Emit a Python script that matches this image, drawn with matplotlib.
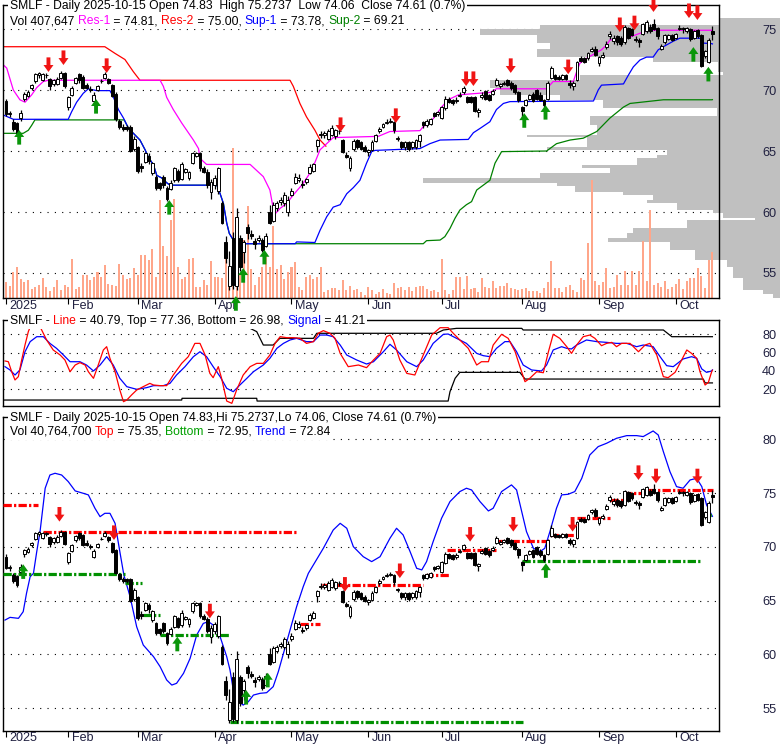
import os
import numpy as np
import matplotlib.pyplot as plt
from matplotlib import font_manager as fm

plt.rcParams['font.family'] = ['Liberation Sans', 'DejaVu Sans']


def find_font(name):
    for p in fm.findSystemFonts():
        if os.path.basename(p).lower() == name.lower():
            return p
    return None


_path = find_font('LiberationSans-Regular.ttf')


def font(size):
    if _path:
        fp = fm.FontProperties(fname=_path)
    else:
        fp = fm.FontProperties(family='Liberation Sans')
    fp.set_size(size)
    return fp


# ---- daily candles, 194 sessions (Jan 2025 .. 2025-10-15) ----
opens = [69.1, 68.0, 67.4, 67.3, 67.7, 69.3, 69.5, 70.2, 70.7, 71.2,
         70.8, 71.2, 70.9, 70.5, 70.5, 71.0, 71.4, 68.6, 69.6, 70.6,
         71.3, 71.1, 70.4, 70.1, 69.1, 70.0, 70.7, 71.0, 70.9, 70.4,
         69.7, 67.5, 67.0, 67.0, 67.0, 65.2, 65.3, 63.8, 64.1, 64.6,
         63.2, 62.9, 62.4, 62.9, 62.0, 61.9, 62.6, 63.4, 62.7, 63.3,
         62.8, 64.0, 64.6, 64.8, 63.6, 63.3, 61.6, 62.2, 61.7, 60.7,
         57.5, 53.9, 57.9, 53.9, 57.9, 56.7, 58.8, 58.2, 57.6, 57.7,
         57.7, 57.2, 60.0, 59.3, 60.3, 60.8, 60.7, 60.0, 61.4, 62.35,
         62.6, 62.3, 62.5, 63.2, 63.4, 65.4, 66.3, 66.3, 66.0, 66.3,
         66.2, 66.6, 65.9, 64.7, 63.6, 65.2, 65.9, 65.7, 65.3, 64.9,
         65.1, 65.8, 66.6, 67.0, 67.3, 67.4, 67.4, 66.0, 65.7, 65.3,
         65.7, 65.3, 65.3, 65.8, 67.4, 67.1, 67.2, 68.1, 68.0, 67.7,
         68.5, 69.3, 69.2, 69.1, 69.5, 69.8, 69.4, 69.4, 69.4, 68.2,
         69.4, 69.9, 69.6, 69.7, 70.4, 70.3, 70.5, 70.8, 70.6, 70.4,
         69.8, 68.6, 68.8, 69.3, 69.7, 70.0, 69.6, 69.2, 69.3, 71.0,
         71.2, 71.1, 70.9, 71.2, 70.6, 70.3, 70.8, 72.6, 72.6, 72.6,
         73.2, 73.4, 72.2, 72.7, 73.5, 74.4, 74.0, 74.4, 74.3, 73.9,
         75.1, 75.0, 74.2, 74.1, 74.6, 74.8, 75.2, 75.4, 75.1, 73.4,
         73.9, 74.2, 74.5, 74.3, 75.0, 75.1, 74.8, 75.0, 74.3, 74.9,
         74.5, 72.8, 72.3, 74.83]
closes = [68.0, 68.1, 66.8, 66.5, 68.1, 69.7, 69.8, 70.4, 71.3, 71.4,
          71.3, 71.2, 70.3, 70.8, 70.9, 71.4, 70.3, 69.4, 70.2, 71.0,
          70.8, 70.2, 70.2, 70.0, 69.6, 70.3, 70.7, 71.3, 70.6, 69.5,
          67.6, 67.0, 66.8, 66.8, 65.0, 66.0, 63.4, 63.6, 64.8, 64.2,
          64.0, 62.0, 62.0, 62.2, 61.1, 62.4, 63.6, 62.6, 63.9, 63.5,
          63.3, 64.8, 64.8, 63.6, 63.3, 62.2, 62.5, 62.8, 63.6, 59.1,
          56.2, 55.6, 54.0, 59.6, 55.5, 57.5, 58.3, 58.0, 57.4, 57.9,
          56.9, 58.0, 59.1, 60.6, 60.7, 61.0, 61.4, 61.0, 61.7, 62.9,
          62.8, 62.2, 62.7, 63.7, 63.9, 65.9, 66.4, 66.5, 66.6, 66.9,
          66.7, 66.6, 64.9, 64.5, 64.4, 65.8, 65.3, 65.2, 65.0, 65.1,
          65.7, 66.3, 66.8, 67.2, 67.4, 67.5, 66.7, 66.0, 65.3, 65.7,
          65.2, 65.7, 65.9, 66.3, 67.1, 67.5, 67.6, 67.9, 68.2, 68.6,
          69.3, 69.0, 68.9, 69.2, 69.6, 70.2, 69.0, 69.0, 68.3, 68.4,
          69.6, 69.3, 69.2, 69.9, 70.8, 70.5, 70.6, 70.4, 70.2, 69.8,
          69.2, 68.3, 69.2, 69.6, 69.1, 69.3, 69.2, 68.8, 70.6, 71.8,
          70.9, 70.9, 71.2, 70.9, 70.4, 70.6, 72.3, 72.4, 72.3, 73.0,
          73.4, 72.9, 72.7, 72.9, 73.8, 74.6, 74.3, 73.9, 73.8, 75.2,
          74.3, 74.5, 74.1, 73.9, 75.4, 75.6, 74.8, 75.0, 74.4, 73.6,
          74.5, 74.5, 74.1, 74.6, 75.1, 75.0, 75.1, 74.2, 74.8, 74.4,
          72.0, 73.2, 74.1, 74.61]
highs = [69.3, 68.3, 67.6, 67.4, 68.4, 69.8, 70.0, 70.5, 71.4, 71.5,
         71.4, 71.4, 71.0, 70.9, 71.1, 71.6, 71.5, 69.5, 70.3, 71.1,
         71.4, 71.2, 70.6, 70.3, 69.8, 70.4, 70.9, 71.5, 71.0, 70.5,
         69.8, 67.6, 67.2, 67.1, 67.1, 66.2, 65.4, 64.0, 64.9, 64.8,
         64.1, 63.0, 62.5, 63.0, 62.1, 62.6, 63.7, 63.5, 64.1, 63.6,
         63.4, 64.9, 64.9, 64.9, 63.8, 63.5, 62.7, 63.0, 63.7, 60.9,
         58.0, 56.8, 58.4, 60.3, 58.1, 57.7, 59.0, 58.5, 57.9, 58.1,
         57.9, 58.3, 60.6, 60.8, 60.9, 61.2, 61.6, 61.3, 62.0, 63.2,
         63.1, 62.6, 62.8, 63.9, 64.0, 66.0, 66.6, 66.6, 66.8, 67.1,
         66.8, 66.8, 66.0, 64.9, 64.6, 66.0, 66.0, 65.8, 65.5, 65.2,
         65.9, 66.4, 67.0, 67.3, 67.6, 67.7, 67.5, 66.2, 65.8, 65.8,
         65.8, 65.8, 66.0, 66.4, 67.5, 67.6, 67.7, 68.2, 68.3, 68.7,
         69.5, 69.4, 69.3, 69.4, 69.8, 70.3, 69.5, 69.5, 69.5, 68.5,
         69.8, 70.0, 69.7, 70.1, 71.0, 70.6, 70.7, 70.9, 70.7, 70.5,
         69.9, 68.7, 69.3, 69.7, 69.8, 70.1, 69.8, 69.3, 70.7, 72.0,
         71.3, 71.2, 71.3, 71.3, 70.8, 70.7, 72.4, 72.8, 72.7, 73.1,
         73.5, 73.6, 72.8, 73.1, 74.0, 74.8, 74.5, 74.5, 74.4, 75.3,
         75.2, 75.1, 74.4, 74.3, 75.5, 75.7, 75.4, 75.8, 75.2, 73.8,
         74.6, 74.6, 74.6, 74.7, 75.3, 75.2, 75.2, 75.1, 74.9, 75.0,
         74.6, 73.3, 74.3, 75.27]
lows = [67.9, 67.8, 66.6, 66.3, 67.5, 69.1, 69.4, 70.0, 70.6, 71.0,
        70.7, 71.0, 70.0, 70.3, 70.4, 70.9, 70.2, 68.4, 69.5, 70.5,
        70.6, 70.1, 70.1, 69.8, 69.0, 69.9, 70.6, 70.9, 70.5, 69.4,
        67.5, 66.8, 66.6, 66.6, 64.9, 65.0, 63.2, 63.3, 64.0, 63.9,
        63.0, 61.8, 61.8, 62.0, 60.9, 61.8, 62.5, 62.5, 62.6, 63.2,
        62.6, 63.9, 64.5, 63.4, 63.2, 62.0, 61.1, 61.9, 61.5, 59.0,
        55.8, 53.6, 53.7, 53.6, 55.2, 55.8, 57.8, 57.8, 57.0, 57.5,
        56.7, 57.1, 59.0, 59.2, 60.1, 60.6, 60.5, 59.7, 61.3, 62.3,
        62.5, 62.0, 62.3, 63.1, 63.3, 64.9, 66.1, 66.1, 65.9, 66.2,
        66.0, 66.4, 64.8, 64.4, 63.4, 65.0, 65.2, 65.1, 64.9, 64.6,
        65.0, 65.7, 66.5, 66.9, 67.2, 67.3, 66.5, 65.8, 65.2, 65.1,
        65.0, 65.2, 65.2, 65.3, 66.9, 67.0, 67.1, 67.8, 67.9, 67.6,
        68.4, 68.9, 68.8, 68.9, 69.4, 69.7, 68.9, 68.9, 68.2, 67.8,
        69.3, 69.2, 69.1, 69.6, 70.3, 70.2, 70.4, 70.3, 70.0, 69.7,
        69.0, 67.8, 68.7, 69.2, 69.0, 69.2, 69.1, 68.6, 69.2, 70.9,
        70.8, 70.8, 70.8, 70.8, 70.2, 70.0, 70.7, 72.3, 72.2, 72.5,
        73.1, 72.8, 72.0, 72.6, 73.4, 74.2, 73.8, 73.7, 73.6, 73.8,
        74.2, 74.4, 73.9, 73.5, 74.5, 74.7, 74.7, 74.9, 74.2, 73.3,
        73.8, 74.1, 74.0, 74.2, 74.9, 74.7, 74.7, 74.0, 74.2, 74.3,
        71.9, 72.6, 72.2, 74.06]
# volume, thousands of shares
volumes = [142, 103, 230, 275, 171, 142, 157, 83, 97, 112,
           177, 97, 62, 97, 157, 68, 112, 97, 345, 83,
           97, 201, 201, 157, 186, 230, 186, 289, 121, 112,
           103, 304, 201, 171, 180, 269, 201, 378, 378, 334,
           431, 186, 865, 458, 369, 688, 880, 275, 171, 186,
           348, 357, 97, 97, 157, 112, 328, 186, 186, 180,
           481, 127, 1329, 97, 201, 511, 812, 260, 112, 186,
           275, 369, 275, 635, 260, 289, 171, 230, 275, 319,
           97, 68, 186, 201, 171, 186, 275, 53, 68, 92,
           92, 68, 157, 68, 103, 74, 83, 53, 24, 97,
           68, 38, 53, 83, 44, 38, 133, 92, 97, 68,
           97, 62, 97, 103, 103, 77, 62, 74, 53, 345,
           68, 38, 74, 186, 186, 83, 192, 80, 92, 53,
           177, 97, 89, 148, 89, 103, 103, 133, 92, 77,
           74, 80, 89, 62, 62, 62, 44, 92, 142, 328,
           92, 92, 53, 97, 112, 74, 53, 177, 157, 487,
           1048, 148, 112, 139, 266, 92, 97, 207, 112, 236,
           112, 239, 112, 239, 502, 148, 777, 112, 133, 97,
           148, 83, 97, 127, 165, 83, 151, 177, 177, 266,
           195, 89, 340, 408]

month_idx = [0, 17, 36, 57, 78, 99, 119, 141, 162, 183]
month_lbl = ['2025', 'Feb', 'Mar', 'Apr', 'May', 'Jun', 'Jul', 'Aug', 'Sep', 'Oct']

# ---- volume by price (right side histogram) ----
vp_low = [75.3, 75.0, 74.5, 73.85, 73.4, 72.7, 72.3, 71.5, 71.2, 70.8, 70.2, 69.6,
          69.2, 68.5, 67.9, 67.1, 66.3, 66.15, 65.3, 65.1, 64.7, 64.4, 63.85, 63.6,
          63.2, 62.8, 62.4, 62.1, 61.65, 61.4, 61.0, 60.7, 60.2, 59.9, 59.5, 59.35,
          58.7, 58.3, 57.9, 57.5, 56.9, 56.1, 55.5, 54.6, 53.6, 53.3, 52.95]
vp_high = [75.9, 75.3, 75.0, 74.5, 73.85, 73.4, 72.7, 72.3, 71.5, 71.2, 70.8, 70.2,
           69.6, 69.2, 68.5, 67.9, 67.1, 66.3, 66.15, 65.3, 65.1, 64.7, 64.4, 63.85,
           63.6, 63.2, 62.8, 62.4, 62.1, 61.65, 61.4, 61.0, 60.7, 60.2, 59.9, 59.5,
           59.35, 58.7, 58.3, 57.9, 57.5, 56.9, 56.1, 55.5, 54.6, 53.6, 53.3]
vp_volume = [60, 240, 300, 243, 230, 243, 127, 62, 57, 200, 290, 280,
             220, 177, 63, 190, 183, 253, 193, 233, 113, 123, 143, 198,
             170, 240, 357, 223, 205, 157, 127, 133, 103, 67, 57, 25,
             93, 147, 153, 172, 110, 85, 53, 47, 37, 17, 7]

# ---- support / resistance lines, top panel ----
res2_x = [-0.8, 27.0, 29.8, 32.5, 34.8, 36.6, 77.6, 78.5, 80.3, 82.1, 84.4, 85.8, 87.4]
res2_y = [73.55, 73.55, 73.0, 72.5, 71.5, 70.8, 70.8, 70.3, 68.9, 67.8, 66.7, 65.9, 65.4]
res1_x = [-0.7, 0.2, 2.0, 3.8, 5.2, 7.0, 8.4, 10.2, 11.6, 42.1, 43.0, 43.9, 45.7, 48.0,
          51.2, 52.6, 53.0, 54.8, 66.7, 68.5, 70.3, 72.1, 73.0, 73.7, 74.9, 76.7, 78.5,
          81.2, 83.5, 85.8, 87.6, 89.4, 101.7, 104.9, 113.1, 114.0, 115.8, 117.6, 119.0,
          120.8, 123.6, 127.7, 132.2, 134.0, 147.7, 149.5, 155.0, 155.9, 156.8, 158.6,
          162.7, 164.1, 165.0, 168.7, 170.5, 174.1, 175.9, 192.8, 193.0]
res1_y = [72.05, 71.8, 70.0, 69.2, 69.0, 69.6, 70.2, 70.7, 70.8, 70.8, 70.3, 69.4, 68.4, 67.3,
          65.9, 65.2, 64.4, 63.9, 63.9, 63.4, 62.9, 61.8, 60.3, 59.9, 60.3, 60.7, 61.4,
          62.35, 63.4, 65.1, 65.6, 66.1, 66.2, 66.6, 66.67, 67.0, 67.3, 68.0, 68.6,
          69.2, 69.6, 69.7, 69.8, 70.1, 70.1, 70.7, 70.7, 71.5, 72.2, 72.6,
          73.3, 73.7, 74.1, 74.2, 74.35, 74.75, 74.9, 74.9, 74.81]
sup1_x = [-0.7, 2.0, 17.0, 17.9, 19.3, 21.1, 22.5, 24.8, 28.4, 29.3, 30.7, 32.1, 33.4,
          34.8, 36.6, 38.0, 38.9, 40.3, 41.2, 42.5, 43.9, 44.8, 57.6, 58.5, 59.4, 60.3,
          61.0, 62.1, 63.0, 79.0, 79.4, 84.4, 85.8, 87.6, 89.4, 91.3, 93.1, 94.9, 96.7,
          98.5, 99.9, 100.8, 113.1, 115.8, 118.6, 126.3, 127.7, 129.5, 132.2, 134.0,
          135.9, 137.7, 160.5, 161.8, 162.7, 168.7, 170.0, 171.4, 173.2, 175.0, 176.8,
          178.2, 179.6, 182.3, 184.1, 189.6, 190.5, 192.8, 193.0]
sup1_y = [67.95, 67.6, 67.6, 68.2, 69.0, 69.73, 70.1, 69.95, 69.95, 69.45, 68.4, 67.7, 66.9,
          66.45, 65.9, 65.1, 64.5, 63.85, 63.0, 62.8, 62.4, 62.2, 62.2, 61.5, 60.7, 59.1,
          58.25, 57.7, 57.4, 57.4, 57.55, 57.5, 58.5, 59.6, 60.4, 60.6, 61.5, 62.0, 62.6,
          64.0, 64.95, 65.05, 65.2, 65.6, 65.9, 65.95, 66.5, 66.85, 67.4, 68.4,
          68.9, 69.05, 69.1, 70.0, 70.4, 70.5, 71.2, 71.9, 72.46, 72.7, 72.7,
          73.3, 73.55, 74.0, 74.25, 74.25, 73.85, 73.8, 73.78]
sup2_x = [-0.7, 4.7, 6.1, 7.0, 7.9, 32.3, 33.4, 34.8, 36.6, 38.0, 38.9, 40.3, 41.2,
          42.5, 43.9, 44.8, 57.6, 58.5, 59.4, 60.3, 61.0, 62.1, 63.0, 114.0, 114.9,
          118.6, 119.9, 121.3, 122.7, 124.0, 125.8, 127.2, 128.6, 130.4, 132.2, 133.6,
          135.4, 147.7, 150.4, 154.1, 157.7, 161.4, 165.0, 168.7, 170.5, 179.6, 192.8, 193.0]
sup2_y = [66.45, 66.45, 66.7, 67.1, 67.55, 67.55, 66.9, 66.45, 65.9, 65.1, 64.5, 63.85, 63.0,
          62.8, 62.4, 62.2, 62.2, 61.5, 60.7, 59.1, 58.25, 57.7, 57.4, 57.4, 57.65,
          57.7, 57.98, 58.65, 59.5, 60.16, 60.6, 60.85, 61.8, 62.2, 62.6, 64.0,
          64.95, 65.0, 65.6, 65.9, 66.05, 66.6, 67.7, 68.6, 68.9, 69.2, 69.2, 69.21]

# signal arrows, top panel (tip position)
top_dn_x = [11.6, 15.7, 27.5, 91.4, 106.5, 125.7, 127.7, 137.9, 153.6, 167.7, 171.7, 176.9, 186.6, 188.9]
top_dn_y = [71.48, 72.05, 71.4, 66.56, 67.3, 70.33, 70.33, 71.4, 71.3, 74.75, 74.9, 76.4, 75.9, 75.74]
top_up_x = [3.6, 24.6, 44.6, 62.8, 64.8, 70.6, 141.6, 147.4, 187.8, 191.9]
top_up_y = [66.72, 69.26, 60.98, 53.1, 55.4, 56.9, 68.1, 68.77, 73.52, 71.9]

# ---- oscillator panel ----
line_x = [-0.27, 0.64, 1.55, 2.46, 3.37, 4.28, 5.19, 6.1, 7.0, 7.9, 9.3, 11.1, 12.9, 14.8,
          16.1, 17.5, 18.9, 20.2, 21.6, 22.5, 23.9, 25.2, 26.6, 27.5, 28.4, 29.8, 31.1,
          32.1, 33.0, 34.3, 35.7, 37.5, 39.3, 40.3, 42.1, 43.9, 45.7, 48.0, 49.8, 51.6,
          53.0, 54.4, 55.7, 56.6, 58.0, 58.9, 60.3, 61.7, 63.0, 64.8, 66.7, 68.5, 70.3,
          72.1, 73.5, 74.9, 76.7, 78.5, 80.3, 82.1, 84.0, 85.3, 86.7, 88.5, 89.9, 91.3,
          93.5, 96.3, 98.5, 100.4, 102.2, 104.0, 104.9, 105.8, 107.6, 109.5, 111.7, 114.0,
          116.3, 118.6, 120.8, 122.2, 124.0, 126.3, 128.6, 129.9, 131.8, 133.1, 135.4,
          137.2, 139.1, 140.4, 141.8, 143.1, 145.0, 146.8, 148.2, 149.5, 151.3, 153.2,
          154.5, 155.9, 157.7, 159.5, 160.9, 162.7, 164.1, 165.5, 166.8, 168.2, 170.5,
          172.8, 174.6, 175.9, 177.8, 179.6, 180.9, 182.8, 184.6, 186.0, 187.3, 188.7,
          189.6, 191.0, 191.9, 192.8, 193.0]
line_y = [50.9, 50.1, 39.2, 30.2, 33.8, 52.0, 68.3, 82.9, 92.0, 93.8, 88.3, 73.8, 62.9, 57.4,
          52.0, 39.2, 46.5, 49.1, 46.5, 39.2, 32.0, 46.5, 62.9, 66.5, 53.8, 39.2, 19.2,
          6.5, 8.3, 13.8, 19.2, 22.9, 26.5, 24.7, 24.0, 24.0, 35.6, 48.3, 55.6, 70.1,
          70.1, 57.4, 37.4, 32.7, 44.7, 32.0, 7.2, 4.7, 19.2, 35.6, 44.7, 48.3, 48.3,
          57.4, 70.1, 77.4, 76.3, 76.3, 75.6, 70.1, 72.0, 81.1, 84.0, 81.1, 75.6, 59.2,
          44.7, 46.5, 43.6, 52.0, 59.2, 77.4, 79.2, 73.8, 52.0, 37.4, 35.6, 57.4,
          79.2, 87.2, 87.2, 81.1, 73.8, 64.7, 46.5, 50.1, 50.1, 68.3, 80.0,
          75.6, 61.0, 44.7, 28.3, 32.0, 39.2, 38.1, 61.0, 80.0, 75.6, 66.5,
          59.2, 68.3, 77.4, 79.2, 75.6, 67.6, 70.1, 71.2, 66.5, 70.1, 70.1,
          61.0, 68.3, 70.1, 57.4, 33.8, 32.7, 38.5, 52.0, 62.9, 59.2, 53.8,
          39.2, 24.7, 27.6, 39.2, 40.79]
signal_x = [-0.27, 1.1, 2.46, 3.8, 5.19, 6.6, 8.4, 10.2, 12.0, 13.8, 15.7, 17.5, 20.2, 22.0,
            23.9, 25.7, 27.5, 29.3, 31.1, 33.0, 35.7, 38.4, 40.3, 43.0, 44.8, 46.6, 48.9,
            51.2, 53.0, 54.8, 56.6, 58.5, 60.3, 62.1, 63.9, 65.8, 67.6, 70.3, 72.1, 74.0,
            75.8, 77.6, 79.4, 82.1, 84.0, 85.8, 87.6, 89.4, 91.3, 93.1, 95.8, 98.5, 100.4,
            103.1, 104.9, 106.7, 109.5, 112.2, 114.0, 116.7, 119.5, 120.8, 123.1, 125.8,
            128.6, 130.4, 132.2, 134.0, 136.3, 137.7, 139.5, 141.3, 143.6, 146.3, 147.7,
            149.5, 151.8, 153.2, 154.5, 155.9, 158.6, 161.4, 164.1, 166.8, 169.6, 172.3,
            174.1, 176.8, 178.7, 180.5, 182.3, 185.0, 187.3, 188.7, 190.1, 191.4, 192.8, 193.0]
signal_y = [44.7, 41.1, 35.6, 41.1, 61.0, 72.0, 77.4, 77.4, 70.1, 64.7, 57.4, 50.1, 50.1, 46.5,
            40.0, 46.5, 55.6, 46.5, 32.0, 22.9, 20.0, 21.8, 24.0, 24.0, 26.5, 35.6, 44.7,
            55.6, 61.0, 55.6, 44.7, 33.8, 21.1, 17.4, 24.7, 32.0, 39.2, 46.5, 53.8, 64.7,
            70.1, 73.8, 75.6, 72.0, 72.0, 79.2, 79.2, 77.4, 68.3, 57.4, 52.0, 47.6, 50.1,
            61.0, 69.1, 62.9, 50.1, 44.7, 52.0, 70.1, 80.0, 80.3, 75.6, 70.1,
            59.2, 56.7, 55.6, 64.7, 72.0, 72.0, 61.0, 46.5, 41.1, 40.0, 46.5,
            62.9, 66.5, 64.7, 64.0, 68.3, 73.8, 72.0, 71.2, 70.1, 70.1, 66.5,
            68.3, 66.5, 55.6, 45.8, 44.7, 53.1, 55.6, 53.8, 42.2, 38.5, 40.0, 41.21]
band_top_x = [-0.8, 21.5, 21.6, 66.7, 68.5, 70.3, 73.0, 74.8, 84.0, 84.9, 117.6, 119.5,
              123.1, 140.9, 141.3, 179.6, 181.9, 193.0]
band_top_y = [98.0, 98.0, 86.5, 86.5, 82.9, 68.3, 68.3, 75.6, 75.6, 81.1, 81.1, 84.7,
              86.5, 86.5, 84.7, 84.7, 77.4, 77.4]
band_bot_x = [-0.8, 48.0, 48.1, 68.5, 68.6, 120.8, 121.3, 122.7, 124.0, 140.4, 141.8,
              190.5, 191.0, 193.0]
band_bot_y = [8.3, 8.3, 10.2, 10.2, 7.2, 7.2, 17.4, 32.0, 38.5, 38.5, 31.2, 31.2, 26.98, 26.98]

# ---- bottom panel: trend curve, support/resistance segments, arrows ----
trend_x = [-0.27, 1.1, 3.4, 4.7, 5.6, 6.6, 7.5, 8.4, 9.3, 10.7, 12.0, 13.4, 15.2, 17.0,
           18.9, 21.1, 22.5, 24.3, 25.7, 27.0, 28.4, 29.8, 31.1, 32.2, 33.9, 35.7, 37.5,
           40.3, 42.1, 43.9, 45.3, 46.6, 48.5, 50.3, 52.1, 53.9, 55.3, 56.6, 58.5, 60.3,
           61.2, 62.1, 63.0, 64.8, 66.2, 67.6, 69.4, 71.2, 73.0, 74.4, 75.8, 77.6, 79.4,
           81.2, 82.6, 86.7, 89.4, 91.3, 93.1, 94.9, 97.6, 99.9, 102.2, 104.9, 106.7,
           108.5, 110.4, 112.2, 113.6, 114.9, 116.7, 119.0, 121.3, 124.0, 125.8, 127.2,
           129.5, 131.8, 133.1, 135.4, 138.1, 139.5, 140.9, 142.2, 144.1, 145.9, 147.2,
           148.6, 150.4, 151.8, 153.6, 155.4, 157.3, 159.5, 161.8, 164.1, 166.8, 169.6,
           172.3, 174.1, 176.8, 178.2, 179.6, 181.4, 183.2, 185.0, 186.9, 188.7, 190.1,
           191.4, 193.0]
trend_y = [63.2, 63.45, 63.36, 63.98, 65.68, 67.23, 67.54, 69.56, 71.42, 75.45, 76.68, 76.84,
           76.68, 76.07, 75.2, 74.98, 74.83, 73.59, 72.81, 73.12, 73.12, 72.19, 69.56, 67.39,
           65.37, 62.58, 60.88, 59.8, 58.87, 57.63, 57.16, 57.32, 58.25, 59.64, 61.81,
           62.89, 63.05, 62.74, 61.65, 59.8, 58.56, 56.7, 55.77, 55.3, 55.61, 56.23,
           56.39, 56.45, 57.01, 58.4, 60.1, 62.27, 64.44, 66.3, 67.54, 69.87, 71.57,
           72.19, 71.73, 70.02, 69.09, 68.63, 69.09, 70.8, 71.73, 71.11, 69.56, 68.01,
           67.86, 68.63, 70.49, 72.66, 74.21, 75.14, 75.45, 75.29, 74.21, 73.34, 73.59,
           75.14, 75.76, 75.29, 73.28, 71.42, 69.87, 69.56, 69.87, 71.42, 73.59, 74.83,
           74.89, 75.14, 76.37, 78.54, 79.32, 79.63, 80.09, 80.34, 80.34, 80.25, 80.77,
           80.4, 78.85, 76.99, 75.6, 75.45, 76.22, 76.37, 75.6, 73.9, 72.84]
res_seg_start = [-0.8, 10.1, 80.3, 86.3, 114.5, 120.4, 134.0, 148.6, 155.9, 165.0, 168.7, 175.0]
res_seg_end = [8.7, 79.8, 85.8, 114.0, 121.3, 134.0, 148.6, 155.9, 165.0, 168.7, 174.1, 193.2]
res_seg_level = [73.9, 71.42, 62.8, 66.5, 67.4, 69.71, 70.55, 71.11, 72.72, 74.36, 74.98, 75.29]
sup_seg_start = [-0.8, 32.5, 37.5, 42.1, 61.2, 140.9, 190.5]
sup_seg_end = [32.5, 37.1, 42.1, 61.2, 141.3, 190.1, 192.8]
sup_seg_level = [67.48, 66.6, 63.67, 61.81, 53.69, 68.69, 72.97]
bot_dn_x = [14.6, 29.5, 55.7, 92.6, 107.6, 126.8, 138.6, 154.8, 172.8, 177.6, 188.9]
bot_dn_y = [72.35, 70.64, 63.36, 65.84, 67.1, 70.49, 71.42, 71.42, 76.22, 75.91, 75.91]
bot_up_x = [4.7, 46.8, 65.6, 71.5, 147.5]
bot_up_y = [68.38, 61.65, 56.7, 58.3, 68.48]

FIG_W, FIG_H = 780, 745
XLIM = (-0.82, 194.8)
VP_RIGHT = 211.5          # x=780px in candle-index units
PX_PER_BAR = 3.66

fig = plt.figure(figsize=(FIG_W / 100, FIG_H / 100), dpi=100)
renderer = fig.canvas.get_renderer()


def panel(y_top, y_bot):
    return fig.add_axes([3 / FIG_W, 1 - y_bot / FIG_H, 716 / FIG_W, (y_bot - y_top) / FIG_H])


def style_frame(ax, ylim, yticks):
    ax.set_xlim(*XLIM)
    ax.set_ylim(*ylim)
    for s in ax.spines.values():
        s.set_linewidth(1.0)
        s.set_color('black')
    ax.yaxis.tick_right()
    ax.set_yticks(yticks)
    ax.tick_params(axis='y', length=0, pad=31, labelcolor='#202040')
    for lab in ax.get_yticklabels():
        lab.set_fontproperties(font(9.2))
    ax.patch.set_visible(False)


def dotted(ax, levels):
    for v in levels:
        ax.axhline(v, color='black', lw=0.8, ls=(0, (1, 5.6)), zorder=0.5)


def month_axis(ax, off_px, h_px):
    ax.set_xticks(month_idx)
    ax.set_xticklabels([])
    ax.tick_params(axis='x', direction='out', length=4.5, width=0.8)
    for i, m in zip(month_idx, month_lbl):
        ax.text(i + 0.9, -off_px / h_px, m, transform=ax.get_xaxis_transform(),
                ha='left', va='center', fontproperties=font(9.0), color='#202040')


def draw_candles(ax):
    x = np.arange(len(opens))
    o, c = np.array(opens), np.array(closes)
    h, l = np.array(highs), np.array(lows)
    ax.vlines(x, l, h, color='black', lw=0.9, zorder=4)
    up = c >= o
    body = np.maximum(np.abs(c - o), 0.06)
    base = np.minimum(o, c)
    ax.bar(x[up], body[up], bottom=base[up], width=0.78, facecolor='white',
           edgecolor='black', lw=0.7, zorder=5)
    ax.bar(x[~up], body[~up], bottom=base[~up], width=0.78, facecolor='black',
           edgecolor='black', lw=0.7, zorder=5)


def arrows(ax, xs, ys, color, down):
    for x, y in zip(xs, ys):
        ax.annotate('', xy=(x, y), xytext=(0, 10.5 if down else -10.5), textcoords='offset points',
                    arrowprops=dict(arrowstyle='simple,head_length=0.5,head_width=0.72,tail_width=0.28',
                                    fc=color, ec='none', shrinkA=0, shrinkB=0),
                    annotation_clip=False, zorder=6)


def text_width(s, size):
    t = fig.text(0, 0, s + '|', fontproperties=font(size))
    w = t.get_window_extent(renderer).width
    t.remove()
    t = fig.text(0, 0, '|', fontproperties=font(size))
    w -= t.get_window_extent(renderer).width
    t.remove()
    return w


def fit_size(s, target_px, base=9.0):
    # font size that makes string s span target_px pixels
    return base * target_px / text_width(s, base)


def header(x_px, y_px, parts, size):
    full = ''.join(s for s, _ in parts)
    fig.text(x_px / FIG_W, 1 - y_px / FIG_H, full, color='white', fontproperties=font(size),
             va='center', ha='left', bbox=dict(fc='white', ec='none', pad=1.2), zorder=10)
    prefix = ''
    for s, col in parts:
        dx = text_width(prefix, size) if prefix else 0
        fig.text((x_px + dx) / FIG_W, 1 - y_px / FIG_H, s, color=col, fontproperties=font(size),
                 va='center', ha='left', zorder=11)
        prefix += s


RED, MAG, BLUE, GREEN = '#FF0000', '#FF00FF', '#0000FF', '#008000'
ARROW_RED, ARROW_GREEN = '#F01414', '#0A960A'

top_title = 'SMLF - Daily 2025-10-15 Open 74.83  High 75.2737  Low 74.06  Close 74.61 (0.7%)'
mid_title = 'SMLF - Line = 40.79, Top = 77.36, Bottom = 26.98, Signal = 41.21'
bot_title = 'SMLF - Daily 2025-10-15 Open 74.83,Hi 75.2737,Lo 74.06, Close 74.61 (0.7%)'
HEAD = (fit_size(top_title, 457) + fit_size(mid_title, 353) + fit_size(bot_title, 428)) / 3

# ---------------- top panel ----------------
TOP_YLIM = (52.95, 76.97)
ax_prof = panel(5, 298)
ax_vol = panel(5, 298)
ax = panel(5, 298)
ax_prof.set_zorder(1)
ax_vol.set_zorder(2)
ax.set_zorder(3)

ax_prof.set_xlim(*XLIM)
ax_prof.set_ylim(*TOP_YLIM)
ax_prof.axis('off')
dotted(ax_prof, [55, 60, 65, 70, 75])
vp_lo, vp_hi = np.array(vp_low), np.array(vp_high)
vp_w = np.array(vp_volume) / PX_PER_BAR
ax_prof.barh((vp_lo + vp_hi) / 2, vp_w, height=vp_hi - vp_lo, left=VP_RIGHT - vp_w,
             color='#C0C0C0', lw=0, clip_on=False, zorder=1)

ax_vol.set_xlim(*XLIM)
ax_vol.set_ylim(0, 293 * 8.86)
ax_vol.axis('off')
ax_vol.bar(np.arange(len(volumes)), volumes, width=0.55, color='#FFA68A', lw=0)

style_frame(ax, TOP_YLIM, [55, 60, 65, 70, 75])
month_axis(ax, 8, 293)
ax.plot(res2_x, res2_y, color=RED, lw=0.9, zorder=2)
ax.plot(sup2_x, sup2_y, color=GREEN, lw=0.9, zorder=2)
ax.plot(res1_x, res1_y, color=MAG, lw=0.9, zorder=2.2)
ax.plot(sup1_x, sup1_y, color=BLUE, lw=0.9, zorder=2.2)
draw_candles(ax)
arrows(ax, top_dn_x, top_dn_y, ARROW_RED, True)
arrows(ax, top_up_x, top_up_y, ARROW_GREEN, False)

header(10, 6.5, [(top_title, 'black')], HEAD)
header(10, 21, [('Vol 407,647 ', 'black'), ('Res-1', MAG), (' = 74.81, ', 'black'),
                ('Res-2', RED), (' = 75.00, ', 'black'), ('Sup-1', BLUE),
                (' = 73.78, ', 'black'), ('Sup-2', GREEN), (' = 69.21', 'black')], HEAD)

# ---------------- oscillator panel ----------------
axm = panel(320, 406)
style_frame(axm, (1.8, 95.6), [20, 40, 60, 80])
axm.set_xticks([])
dotted(axm, [20, 40, 60, 80])
axm.plot(band_top_x, band_top_y, color='black', lw=0.9)
axm.plot(band_bot_x, band_bot_y, color='black', lw=0.9)
axm.plot(signal_x, signal_y, color=BLUE, lw=0.9)
axm.plot(line_x, line_y, color=RED, lw=0.9)
header(10, 321, [('SMLF - ', 'black'), ('Line', RED), (' = 40.79, Top = 77.36, Bottom = 26.98, ', 'black'),
                 ('Signal', BLUE), (' = 41.21', 'black')], HEAD)

# ---------------- bottom panel ----------------
axb = panel(417, 731)
style_frame(axb, (52.89, 82.07), [55, 60, 65, 70, 75, 80])
month_axis(axb, 7, 314)
dotted(axb, [55, 60, 65, 70, 75, 80])
axb.plot(trend_x, trend_y, color=BLUE, lw=0.9, zorder=2)
for x0, x1, v in zip(res_seg_start, res_seg_end, res_seg_level):
    axb.plot([x0, x1], [v, v], color=RED, lw=2.3, ls=(0, (2.6, 0.7, 0.7, 0.7)),
             solid_capstyle='butt', zorder=3)
for x0, x1, v in zip(sup_seg_start, sup_seg_end, sup_seg_level):
    axb.plot([x0, x1], [v, v], color='#009000', lw=2.3, ls=(0, (2.6, 0.7, 0.7, 0.7)),
             solid_capstyle='butt', zorder=3)
draw_candles(axb)
arrows(axb, bot_dn_x, bot_dn_y, ARROW_RED, True)
arrows(axb, bot_up_x, bot_up_y, ARROW_GREEN, False)

header(10, 418, [(bot_title, 'black')], HEAD)
header(10, 432, [('Vol 40,764,700 ', 'black'), ('Top', RED), (' = 75.35, ', 'black'),
                 ('Bottom', '#00A000'), (' = 72.95, ', 'black'), ('Trend', BLUE),
                 (' = 72.84', 'black')], HEAD)

fig.savefig('out.png', dpi=100)
